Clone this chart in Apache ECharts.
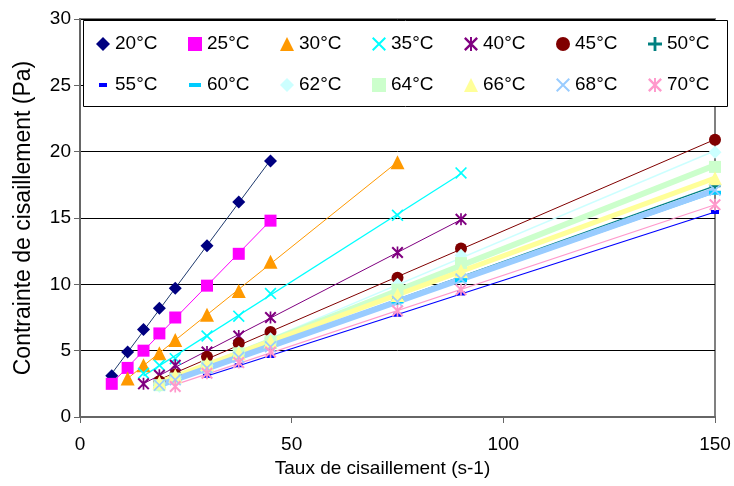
<!DOCTYPE html>
<html><head><meta charset="utf-8">
<script src="https://cdn.jsdelivr.net/npm/echarts@6/dist/echarts.min.js"></script>
<style>html,body{margin:0;padding:0;background:#fff}#c{width:734px;height:486px}</style>
</head><body><div id="c"></div>
<script>
// ---- data ----
const seriesNames = ['20°C','25°C','30°C','35°C','40°C','45°C','50°C','55°C','60°C','62°C','64°C','66°C','68°C','70°C'];
const xLow   = [7.5, 11.25, 15, 18.75, 22.5, 30, 37.5, 45];
const x30    = [11.25, 15, 18.75, 22.5, 30, 37.5, 45, 75];
const xMid   = [15, 18.75, 22.5, 30, 37.5, 45, 75, 90];
const xHigh  = [18.75, 22.5, 30, 37.5, 45, 75, 90, 150];
const x55    = [30, 37.5, 45, 75, 90, 150];
const x70    = [22.5, 30, 37.5, 45, 75, 90, 150];
const y20 = [3.1, 4.9, 6.6, 8.2, 9.7, 12.9, 16.2, 19.3];
const y25 = [2.5, 3.7, 5.0, 6.3, 7.5, 9.9, 12.3, 14.8];
const y30 = [2.9, 3.9, 4.8, 5.8, 7.7, 9.5, 11.7, 19.2];
const y35 = [3.3, 3.9, 4.4, 6.1, 7.6, 9.3, 15.2, 18.4];
const y40 = [2.5, 3.15, 3.9, 4.9, 6.1, 7.5, 12.4, 14.9];
const y45 = [2.7, 3.2, 4.55, 5.55, 6.4, 10.5, 12.7, 20.9];
const y50 = [2.4, 2.9, 3.7, 4.6, 5.4, 8.9, 10.6, 17.4];
const y55 = [3.1, 3.9, 4.6, 7.7, 9.3, 15.45];
const y60 = [2.3, 2.8, 3.6, 4.5, 5.3, 8.7, 10.3, 16.9];
const y62 = [2.3, 2.9, 3.9, 4.9, 5.9, 10.0, 12.2, 19.95];
const y64 = [2.4, 2.9, 3.8, 4.8, 5.7, 9.6, 11.6, 18.85];
const y66 = [2.6, 3.1, 4.0, 4.8, 5.7, 9.2, 11.0, 18.0];
const y68 = [2.4, 2.8, 3.7, 4.5, 5.3, 8.7, 10.4, 17.1];
const y70 = [2.3, 3.3, 4.1, 4.9, 8.0, 9.6, 16.0];
const xTicks = [0, 50, 100, 150];
const yTicks = [0, 5, 10, 15, 20, 25, 30];

const xs = [xLow, xLow, x30, xMid, xMid, xHigh, xHigh, x55, xHigh, xHigh, xHigh, xHigh, xHigh, x70];
const ys = [y20, y25, y30, y35, y40, y45, y50, y55, y60, y62, y64, y66, y68, y70];

// ---- styles ----
const X_PATH = 'path://M0,1 L1,0 L10,9 L9,10 Z M9,0 L10,1 L1,10 L0,9 Z';
const STAR_PATH = 'path://M0,1.2 L1.2,0 L10,8.8 L8.8,10 Z M8.8,0 L10,1.2 L1.2,10 L0,8.8 Z M4.3,0 L5.7,0 L5.7,10 L4.3,10 Z';
const PLUS_PATH = 'path://M4,0 L6,0 L6,10 L4,10 Z M0,4 L10,4 L10,6 L0,6 Z';
const DASH_PATH = 'path://M0,0 L0,0 Z M3,5 L11,5 L11,9 L3,9 Z M14,14 L14,14 Z';
const LDASH_PATH = 'path://M0,0 L0,0 Z M1,5 L13,5 L13,9 L1,9 Z M14,14 L14,14 Z';
const styles = [
  {c:'#000080', lc:'#1F3A6E', s:'diamond', z:13, w:1},
  {c:'#FF00FF', lc:'#FF00FF', s:'rect', z:12, w:1},
  {c:'#FF9900', lc:'#FF9900', s:'triangle', z:14, w:1},
  {c:'#00FFFF', lc:'#00FFFF', s:X_PATH, z:12, w:1.2},
  {c:'#800080', lc:'#800080', s:STAR_PATH, z:12, w:1},
  {c:'#800000', lc:'#800000', s:'circle', z:12, w:1},
  {c:'#008080', lc:'#008080', s:PLUS_PATH, z:11, w:1.2},
  {c:'#0000FF', lc:'#0000FF', s:DASH_PATH, z:14, w:1.2},
  {c:'#00CCFF', lc:'#00CCFF', s:LDASH_PATH, z:14, w:1.5},
  {c:'#CCFFFF', lc:'#CCFFFF', s:'diamond', z:13, w:1.5},
  {c:'#CCFFCC', lc:'#CCFFCC', s:'rect', z:12, w:6},
  {c:'#FFFF99', lc:'#FFFF99', s:'triangle', z:14, w:5},
  {c:'#99CCFF', lc:'#99CCFF', s:X_PATH, z:12, w:6},
  {c:'#FF99CC', lc:'#FF99CC', s:STAR_PATH, z:12, w:1.2}
];

function fit(x, y) {
  const n = x.length;
  let sx=0, sy=0, sxx=0, sxy=0;
  for (let i=0;i<n;i++){ sx+=x[i]; sy+=y[i]; sxx+=x[i]*x[i]; sxy+=x[i]*y[i]; }
  const b = (n*sxy - sx*sy)/(n*sxx - sx*sx);
  const a = (sy - b*sx)/n;
  const x0 = Math.min(...x), x1 = Math.max(...x);
  return [[x0, a+b*x0],[x1, a+b*x1]];
}

const series = [];
seriesNames.forEach((name, i) => {
  series.push({
    name: name + ' trend', type: 'line', data: fit(xs[i], ys[i]),
    showSymbol: false, symbol: 'none', silent: true, z: 1,
    lineStyle: {color: styles[i].lc, width: styles[i].w}
  });
});
seriesNames.forEach((name, i) => {
  series.push({
    name: name, type: 'scatter', z: 3,
    data: xs[i].map((x, k) => [x, ys[i][k]]),
    symbol: styles[i].s, symbolSize: styles[i].z,
    itemStyle: {color: styles[i].c, opacity: 1}
  });
});

const FONT = 'Liberation Sans, Arial, sans-serif';
const legendBase = {
  left: 96, width: 640, orient: 'horizontal', padding: 0,
  itemGap: 27, itemWidth: 14, itemHeight: 14,
  textStyle: {fontFamily: FONT, fontSize: 19, color: '#000', width: 46, lineHeight: 20},
  selectedMode: false, z: 10
};
const chart = echarts.init(document.getElementById('c'), null, {renderer: 'canvas'});
chart.setOption({
  animation: false,
  backgroundColor: '#fff',
  grid: {left: 80, right: 19, top: 19, bottom: 69, show: true, borderColor: '#808080', borderWidth: 2},
  graphic: [{
    type: 'rect', left: 83, top: 20, z: 9,
    shape: {width: 644, height: 86},
    style: {fill: '#fff', stroke: '#000', lineWidth: 1}
  }],
  legend: [
    Object.assign({}, legendBase, {data: seriesNames.slice(0, 7), top: 34}),
    Object.assign({}, legendBase, {data: seriesNames.slice(7), top: 75})
  ],
  xAxis: {
    type: 'value', min: 0, max: 150, interval: 50,
    name: 'Taux de cisaillement (s-1)', nameLocation: 'middle', nameGap: 42,
    nameTextStyle: {fontFamily: FONT, fontSize: 19, color: '#000', padding: [0, 30, 0, 0]},
    axisLine: {show: true, lineStyle: {color: '#666', width: 2}},
    axisTick: {show: true, inside: false, length: 6, lineStyle: {color: '#666', width: 1}},
    axisLabel: {fontFamily: FONT, fontSize: 19, color: '#000', margin: 18,
      formatter: v => xTicks.includes(v) ? String(v) : ''},
    splitLine: {show: false}
  },
  yAxis: {
    type: 'value', min: 0, max: 30, interval: 5,
    name: 'Contrainte de cisaillement (Pa)', nameLocation: 'middle', nameGap: 45, nameRotate: 90,
    nameTextStyle: {fontFamily: FONT, fontSize: 23, color: '#000'},
    axisLine: {show: true, lineStyle: {color: '#666', width: 2}},
    axisTick: {show: true, inside: false, length: 6, lineStyle: {color: '#666', width: 1}},
    axisLabel: {fontFamily: FONT, fontSize: 19, color: '#000', margin: 9,
      formatter: v => yTicks.includes(v) ? String(v) : ''},
    splitLine: {show: true, lineStyle: {color: '#000', width: 1}}
  },
  series: series
});
</script>
</body></html>
